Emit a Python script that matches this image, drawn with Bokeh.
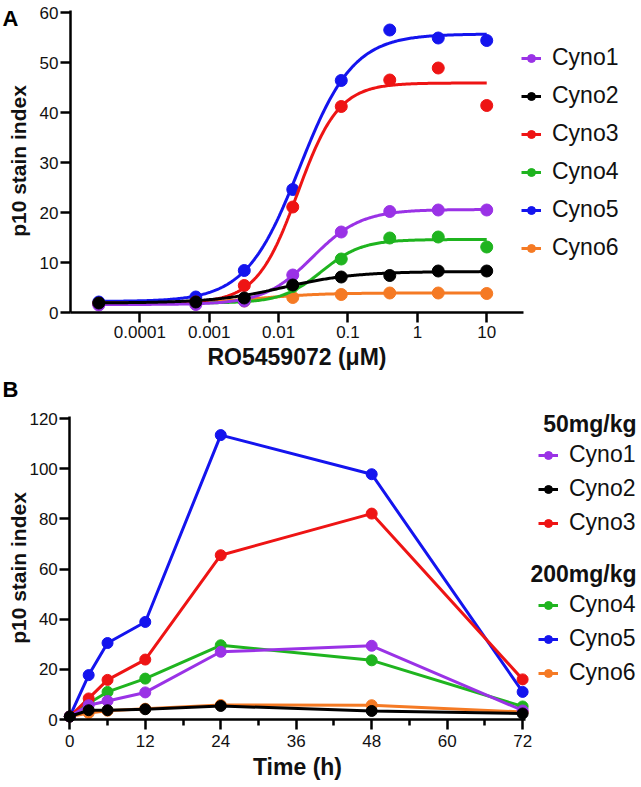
import numpy as np
from bokeh.plotting import figure
from bokeh.models import (FixedTicker, CustomJSTickFormatter, Legend, LegendItem,
                          Label, Range1d)
from bokeh.layouts import column
from bokeh.embed import file_html
from bokeh.resources import INLINE

FONT = "Liberation Sans"

series_names = ["Cyno1", "Cyno2", "Cyno3", "Cyno4", "Cyno5", "Cyno6"]
series_colors = ["#9A32E6", "#000000", "#EE1414", "#1FB41F", "#1414EE", "#F57A24"]
draw_order = [5, 4, 3, 2, 0, 1]

# ---------------- Panel A: concentration response ----------------
conc_um = [2.56e-5, 6.4e-4, 0.0032, 0.016, 0.08, 0.4, 2.0, 10.0]
a_cyno1 = [1.5, 1.6, 2.3, 7.5, 16.1, 20.2, 20.5, 20.5]
a_cyno2 = [1.9, 2.1, 2.9, 5.5, 7.1, 7.4, 8.3, 8.3]
a_cyno3 = [1.8, 2.1, 5.4, 21.1, 41.2, 46.5, 48.9, 41.4]
a_cyno4 = [1.8, 2.0, 2.4, 5.2, 10.7, 14.9, 15.1, 13.1]
a_cyno5 = [2.1, 3.1, 8.4, 24.6, 46.4, 56.5, 54.9, 54.4]
a_cyno6 = [1.8, 2.0, 2.3, 3.0, 3.6, 3.9, 3.9, 3.8]
a_values = [a_cyno1, a_cyno2, a_cyno3, a_cyno4, a_cyno5, a_cyno6]

# four-parameter logistic fits
fit_bottom = [1.6, 1.9, 1.9, 1.9, 2.2, 1.9]
fit_top = [20.6, 8.2, 45.9, 14.6, 55.7, 3.9]
fit_ec50 = [0.031, 0.012, 0.0188, 0.042, 0.020, 0.006]
fit_hill = [1.24, 0.85, 1.47, 1.5, 1.12, 1.0]

a_x_ticks = [1e-4, 1e-3, 1e-2, 1e-1, 1.0, 10.0]
a_x_tick_labels = ["0.0001", "0.001", "0.01", "0.1", "1", "10"]
a_y_ticks = [0, 10, 20, 30, 40, 50, 60]
a_x_axis_span = (1e-5, 10 ** 1.53)
a_y_axis_span = (0, 60.4)

# ---------------- Panel B: time course ----------------
time_h = [0, 3, 6, 12, 24, 48, 72]
b_cyno1 = [1.2, 5.7, 7.4, 10.8, 27.0, 29.4, 3.6]
b_cyno2 = [1.2, 3.7, 3.7, 4.1, 5.4, 3.4, 2.4]
b_cyno3 = [1.2, 8.4, 15.8, 23.9, 65.5, 82.1, 16.0]
b_cyno4 = [1.2, 6.5, 11.0, 16.3, 29.6, 23.6, 5.2]
b_cyno5 = [1.2, 17.7, 30.5, 38.9, 113.4, 97.8, 11.0]
b_cyno6 = [1.2, 2.6, 3.5, 4.3, 5.8, 5.7, 3.0]
b_values = [b_cyno1, b_cyno2, b_cyno3, b_cyno4, b_cyno5, b_cyno6]
dose_groups = ["50mg/kg", "200mg/kg"]

b_x_ticks = [0, 12, 24, 36, 48, 60, 72]
b_x_minor = [6, 18, 30, 42, 54, 66]
b_y_ticks = [0, 20, 40, 60, 80, 100, 120]
b_x_axis_span = (0, 72.4)
b_y_axis_span = (0, 120.8)

W = 641
HA = 376
HB = 787 - HA


def style(p):
    p.xgrid.visible = False
    p.ygrid.visible = False
    p.outline_line_color = None
    for ax in p.axis:
        ax.axis_line_width = 2.5
        ax.axis_line_color = "black"
        ax.major_tick_line_width = 2.5
        ax.major_tick_line_color = "black"
        ax.major_tick_in = 0
        ax.major_tick_out = 10
        ax.minor_tick_line_color = None
        ax.major_label_text_font = FONT
        ax.major_label_text_font_size = "17px"
        ax.major_label_text_color = "#111111"
        ax.axis_label_text_font = FONT
        ax.axis_label_text_font_size = "23px"
        ax.axis_label_text_font_style = "bold"
        ax.axis_label_text_color = "#111111"
    p.yaxis.major_label_standoff = 2


def ylabel(p, y):
    p.add_layout(Label(x=17.5, y=y, x_units="screen", y_units="screen",
                       text="p10 stain index", angle=np.pi / 2,
                       text_align="center", text_baseline="middle",
                       text_font=FONT, text_font_size="21px",
                       text_font_style="bold", text_color="#111111"))


def panel_letter(p, txt, y):
    p.add_layout(Label(x=2, y=y, x_units="screen", y_units="screen",
                       text=txt, text_align="left", text_baseline="top",
                       text_font=FONT, text_font_size="22px",
                       text_font_style="bold", text_color="black"))


# ---- figure A ----
# the frame fills the canvas; both axes are drawn at fixed data positions
pa = figure(width=W, height=HA, x_axis_type="log",
            x_range=Range1d(10 ** -6.009, 10 ** 3.231), y_range=Range1d(-12.8, 62.4),
            output_backend="svg", toolbar_location=None,
            min_border_left=0, min_border_right=0,
            min_border_top=0, min_border_bottom=0)
style(pa)
pa.yaxis.fixed_location = a_x_axis_span[0]
pa.xaxis.fixed_location = a_y_axis_span[0]
pa.yaxis.bounds = a_y_axis_span
pa.xaxis.bounds = a_x_axis_span
pa.xaxis.ticker = FixedTicker(ticks=a_x_ticks, minor_ticks=[])
pa.xaxis.formatter = CustomJSTickFormatter(
    args=dict(tvals=a_x_ticks, tlabels=a_x_tick_labels),
    code="""
    for (let i = 0; i < tvals.length; i++) {
        if (Math.abs(Math.log10(tvals[i]) - Math.log10(tick)) < 1e-6) return tlabels[i];
    }
    return "";
    """)
pa.yaxis.ticker = FixedTicker(ticks=a_y_ticks, minor_ticks=[])
pa.xaxis.major_label_standoff = 3
pa.xaxis.axis_label = "RO5459072 (\u03bcM)"
pa.xaxis.axis_label_standoff = 3

a_items = {}
xs_fit = np.logspace(np.log10(conc_um[0]), np.log10(conc_um[-1]), 300)
for i in draw_order:
    b, t, e, h = fit_bottom[i], fit_top[i], fit_ec50[i], fit_hill[i]
    ys_fit = b + (t - b) / (1.0 + (e / xs_fit) ** h)
    lr = pa.line(xs_fit, ys_fit, line_color=series_colors[i], line_width=3)
    sr = pa.scatter(conc_um, a_values[i], size=12, marker="circle",
                    fill_color=series_colors[i], line_color=series_colors[i])
    a_items[i] = LegendItem(label=series_names[i], renderers=[lr, sr])

leg_a = Legend(items=[a_items[i] for i in range(6)], location=(521, 115),
               glyph_width=20, glyph_height=20, label_height=26, spacing=11,
               label_standoff=11, padding=0, margin=0,
               border_line_color=None, background_fill_alpha=0,
               label_text_font=FONT, label_text_font_size="23px",
               label_text_color="#111111")
pa.add_layout(leg_a)
ylabel(pa, HA - 160.5)
panel_letter(pa, "A", HA - 5)

# ---- figure B ----
pb = figure(width=W, height=HB,
            x_range=Range1d(-11.02, 90.9), y_range=Range1d(-27.11, 136.76),
            output_backend="svg", toolbar_location=None,
            min_border_left=0, min_border_right=0,
            min_border_top=0, min_border_bottom=0)
style(pb)
pb.yaxis.fixed_location = b_x_axis_span[0]
pb.xaxis.fixed_location = b_y_axis_span[0]
pb.yaxis.bounds = b_y_axis_span
pb.xaxis.bounds = b_x_axis_span
pb.xaxis.ticker = FixedTicker(ticks=b_x_ticks, minor_ticks=b_x_minor)
pb.xaxis.minor_tick_line_color = "black"
pb.xaxis.minor_tick_line_width = 2.5
pb.xaxis.minor_tick_in = 0
pb.xaxis.minor_tick_out = 6
pb.yaxis.ticker = FixedTicker(ticks=b_y_ticks, minor_ticks=[])
pb.xaxis.major_label_standoff = 5
pb.xaxis.axis_label = "Time (h)"
pb.xaxis.axis_label_standoff = 4

b_items = {}
for i in draw_order:
    lr = pb.line(time_h, b_values[i], line_color=series_colors[i], line_width=3)
    sr = pb.scatter(time_h, b_values[i], size=11, marker="circle",
                    fill_color=series_colors[i], line_color=series_colors[i])
    b_items[i] = LegendItem(label=series_names[i], renderers=[lr, sr])

common_leg = dict(glyph_width=20, glyph_height=20, label_height=26, spacing=7,
                  label_standoff=11, padding=0, margin=0,
                  border_line_color=None, background_fill_alpha=0,
                  label_text_font=FONT, label_text_font_size="23px",
                  label_text_color="#111111")
leg_b1 = Legend(items=[b_items[i] for i in (0, 1, 2)], location=(538, 251), **common_leg)
leg_b2 = Legend(items=[b_items[i] for i in (3, 4, 5)], location=(538, 101), **common_leg)
pb.add_layout(leg_b1)
pb.add_layout(leg_b2)

for txt, yy in zip(dose_groups, [HB - 47.3, HB - 197.3]):
    pb.add_layout(Label(x=636, y=yy, x_units="screen", y_units="screen",
                        text=txt, text_align="right", text_baseline="middle",
                        text_font=FONT, text_font_size="23px",
                        text_font_style="bold", text_color="#111111"))

ylabel(pb, HB - 191.5)
panel_letter(pb, "B", HB - 0)

layout = column(pa, pb)
open("out.html", "w").write(file_html(layout, INLINE))
